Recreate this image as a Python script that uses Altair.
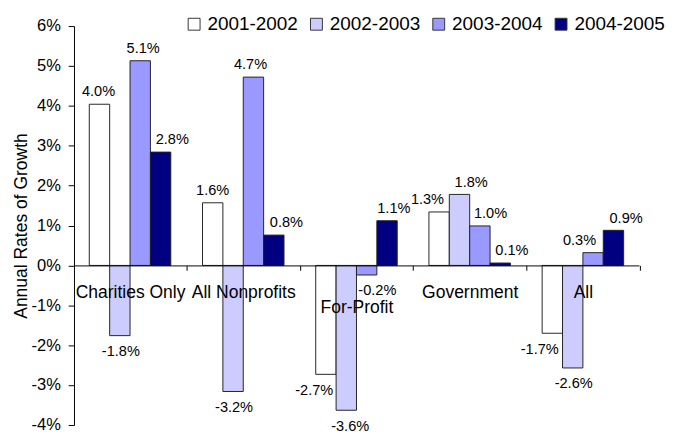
import altair as alt
import pandas as pd

categories = ["Charities Only", "All Nonprofits", "For-Profit", "Government", "All"]
periods = ["2001-2002", "2002-2003", "2003-2004", "2004-2005"]

# growth in percent, per period, in category order
growth_2001_2002 = [4.04, 1.57, -2.73, 1.34, -1.70]
growth_2002_2003 = [-1.76, -3.16, -3.63, 1.78, -2.57]
growth_2003_2004 = [5.13, 4.72, -0.24, 0.99, 0.32]
growth_2004_2005 = [2.84, 0.76, 1.12, 0.06, 0.88]

y_ticks = [-4, -3, -2, -1, 0, 1, 2, 3, 4, 5, 6]

# styling
colors = ["#FFFFFF", "#CCCCFF", "#9999FF", "#000080"]
label_nudge = [  # horizontal label nudges in px, per category, per period
    [-1, 1, 3, 12],
    [0, 1, -3, 13],
    [-12, 4, 11, 7],
    [-12, 12, 11, 12],
    [-13, 1, -14, 13],
]

series = [growth_2001_2002, growth_2002_2003, growth_2003_2004, growth_2004_2005]
rows = []
for pi, p in enumerate(periods):
    for ci, c in enumerate(categories):
        v = series[pi][ci]
        rows.append({"category": c, "period": p, "value": v,
                     "label": f"{v:.1f}%", "nudge": label_nudge[ci][pi]})
df = pd.DataFrame(rows)

W, H = 582, 411
YMIN, YMAX = -4, 6
P_IN, P_OUT = 0.28, 0.135
step = W / (len(categories) - P_IN + 2 * P_OUT)
half_gap = step * P_IN / 2
FONT = "Liberation Sans"

x_enc = alt.X(
    "category:N", sort=categories,
    scale=alt.Scale(paddingInner=P_IN, paddingOuter=P_OUT),
    axis=alt.Axis(
        title=None, orient="bottom", offset=-H * (0 - YMIN) / (YMAX - YMIN),
        labelAngle=0, labelFontSize=18, labelPadding=14, tickSize=5,
        bandPosition=1, tickOffset=half_gap, labelOffset=-half_gap,
        domainColor="black", tickColor="black", labelColor="black",
        labelBaseline="top", labelLineHeight=16, zindex=1,
        labelExpr="datum.value == 'For-Profit' ? ['', datum.value] : datum.value",
    ),
)
xo_enc = alt.XOffset("period:N", sort=periods,
                     scale=alt.Scale(paddingInner=0, paddingOuter=0))
y_enc = alt.Y(
    "value:Q", scale=alt.Scale(domain=[YMIN, YMAX], nice=False),
    axis=alt.Axis(
        values=y_ticks, labelExpr="datum.value + '%'",
        title="Annual Rates of Growth", titleFontSize=18, titleFontWeight="normal",
        titleColor="black", labelFontSize=17, labelColor="black",
        tickSize=6, labelPadding=8, titlePadding=1, grid=False,
        domainColor="black", tickColor="black",
    ),
)

bars = alt.Chart(df).mark_bar(stroke="#222222", strokeWidth=1).encode(
    x=x_enc, xOffset=xo_enc, y=y_enc,
    color=alt.Color(
        "period:N", sort=periods,
        scale=alt.Scale(domain=periods, range=colors),
        legend=alt.Legend(
            title=None, orient="none", legendX=114, legendY=-12,
            direction="horizontal", labelFontSize=19.5, labelColor="black",
            symbolType="square", symbolSize=150, symbolStrokeColor="#333333",
            symbolStrokeWidth=1, labelOffset=4, columnPadding=9, padding=0,
        ),
    ),
)

pos_labels = alt.Chart(df).transform_filter("datum.value >= 0").mark_text(
    fontSize=15, baseline="alphabetic", dy=-8, color="black",
    dx=alt.ExprRef("datum.nudge"),
).encode(x=alt.X("category:N", sort=categories), xOffset=xo_enc,
         y="value:Q", text="label:N")

neg_labels = alt.Chart(df).transform_filter("datum.value < 0").mark_text(
    fontSize=15, baseline="alphabetic", dy=21, color="black",
    dx=alt.ExprRef("datum.nudge"),
).encode(x=alt.X("category:N", sort=categories), xOffset=xo_enc,
         y="value:Q", text="label:N")

chart = alt.layer(bars, pos_labels, neg_labels).properties(
    width=W, height=H,
    padding={"left": 4, "top": 0, "right": 5, "bottom": 5},
).configure(font=FONT).configure_view(stroke=None)

chart.save("out.html", embed_options={"renderer": "svg", "actions": False})
